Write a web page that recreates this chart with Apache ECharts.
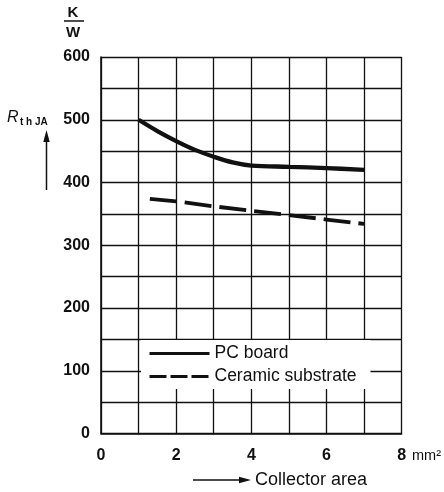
<!DOCTYPE html>
<html>
<head>
<meta charset="utf-8">
<script src="https://cdn.jsdelivr.net/npm/echarts@6/dist/echarts.min.js"></script>
<style>
html,body{margin:0;padding:0;background:#fff;}
#chart{width:444px;height:492px;}
</style>
</head>
<body>
<div id="chart"></div>
<script>
// Data
var seriesNames = ['PC board', 'Ceramic substrate'];
var pcBoardX = [1, 1.5, 2, 2.5, 3, 3.5, 4, 5, 6, 7];
var pcBoardY = [500, 482, 466, 452, 441, 432, 427, 425, 423, 420];
var ceramicX = [1.3, 2, 3, 4, 5, 6, 7];
var ceramicY = [374, 370, 362, 355, 348, 341, 334];
var xTickLabels = ['0', '2', '4', '6', '8'];
var yTickLabels = ['0', '100', '200', '300', '400', '500', '600'];
var xUnit = 'mm\u00b2';
var xTitle = 'Collector area';

function pairs(xs, ys) { return xs.map(function (x, i) { return [x, ys[i]]; }); }

var chart = echarts.init(document.getElementById('chart'), null, {renderer: 'canvas'});
var ink = '#111';
var hidden = {color: 'rgba(0,0,0,0)', borderWidth: 0, opacity: 0};
var option = {
  backgroundColor: '#fff',
  animation: false,
  grid: {left: 101, top: 57, width: 301, height: 376.5, containLabel: false},
  xAxis: {
    type: 'value', min: 0, max: 8, interval: 1,
    name: xUnit, nameLocation: 'end', nameGap: 9,
    nameTextStyle: {fontFamily: 'Liberation Sans', fontSize: 14.5, color: ink,
      verticalAlign: 'top', padding: [15, 0, 0, 0]},
    axisLine: {show: true, lineStyle: {color: ink, width: 1.6}},
    axisTick: {show: false},
    splitLine: {show: true, lineStyle: {color: ink, width: 1.3}},
    axisLabel: {
      margin: 14, fontFamily: 'Liberation Sans', fontWeight: 'bold', fontSize: 16, color: ink,
      formatter: function (v) { var s = String(v); return xTickLabels.indexOf(s) >= 0 ? s : ''; }
    }
  },
  yAxis: {
    type: 'value', min: 0, max: 600, interval: 50,
    axisLine: {show: true, lineStyle: {color: ink, width: 1.6}},
    axisTick: {show: false},
    splitLine: {show: true, lineStyle: {color: ink, width: 1.3}},
    axisLabel: {
      margin: 11, fontFamily: 'Liberation Sans', fontWeight: 'bold', fontSize: 16, color: ink,
      formatter: function (v) { var s = String(v); return yTickLabels.indexOf(s) >= 0 ? s : ''; }
    }
  },
  legend: {
    orient: 'vertical', left: 141, top: 340,
    itemWidth: 60, itemHeight: 14, itemGap: 4,
    padding: [4, 14, 3, 7],
    backgroundColor: '#fff',
    textStyle: {fontFamily: 'Liberation Sans', fontSize: 17.5, color: ink, lineHeight: 19},
    itemStyle: hidden,
    lineStyle: {width: 3},
    data: [
      {name: seriesNames[0], itemStyle: hidden, lineStyle: {width: 3, type: 'solid'}},
      {name: seriesNames[1], itemStyle: hidden, lineStyle: {width: 3, type: [17, 4]}}
    ]
  },
  series: [
    {
      name: seriesNames[0], type: 'line', smooth: 0.35, symbol: 'none',
      data: pairs(pcBoardX, pcBoardY),
      lineStyle: {color: ink, width: 4.3, cap: 'butt'},
      itemStyle: {color: ink}
    },
    {
      name: seriesNames[1], type: 'line', smooth: false, symbol: 'none',
      data: pairs(ceramicX, ceramicY),
      lineStyle: {color: ink, width: 3.8, type: [27, 8]},
      itemStyle: {color: ink}
    }
  ],
  graphic: [
    {type: 'text', x: 73, y: 13, style: {text: 'K', font: 'bold 15px "Liberation Sans"', fill: ink, textAlign: 'center', textVerticalAlign: 'middle'}},
    {type: 'line', shape: {x1: 64, y1: 21, x2: 84, y2: 21}, style: {stroke: ink, lineWidth: 1.5}},
    {type: 'text', x: 73, y: 33, style: {text: 'W', font: 'bold 15px "Liberation Sans"', fill: ink, textAlign: 'center', textVerticalAlign: 'middle'}},
    {type: 'text', x: 7, y: 118, style: {text: 'R', font: 'italic 16px "Liberation Sans"', fill: ink, textAlign: 'left', textVerticalAlign: 'middle'}},
    {type: 'text', x: 20, y: 122, style: {text: 't h JA', font: 'bold 10px "Liberation Sans"', fill: ink, textAlign: 'left', textVerticalAlign: 'middle'}},
    {type: 'line', shape: {x1: 46.5, y1: 190, x2: 46.5, y2: 138}, style: {stroke: ink, lineWidth: 1.5}},
    {type: 'polygon', shape: {points: [[46.5, 130], [43.3, 142], [49.7, 142]]}, style: {fill: ink}},
    {type: 'line', shape: {x1: 193, y1: 480, x2: 241, y2: 480}, style: {stroke: ink, lineWidth: 1.5}},
    {type: 'polygon', shape: {points: [[251, 480], [239, 476.8], [239, 483.2]]}, style: {fill: ink}},
    {type: 'text', x: 255, y: 480, style: {text: xTitle, font: '18px "Liberation Sans"', fill: ink, textAlign: 'left', textVerticalAlign: 'middle'}}
  ]
};
chart.setOption(option);
</script>
</body>
</html>
